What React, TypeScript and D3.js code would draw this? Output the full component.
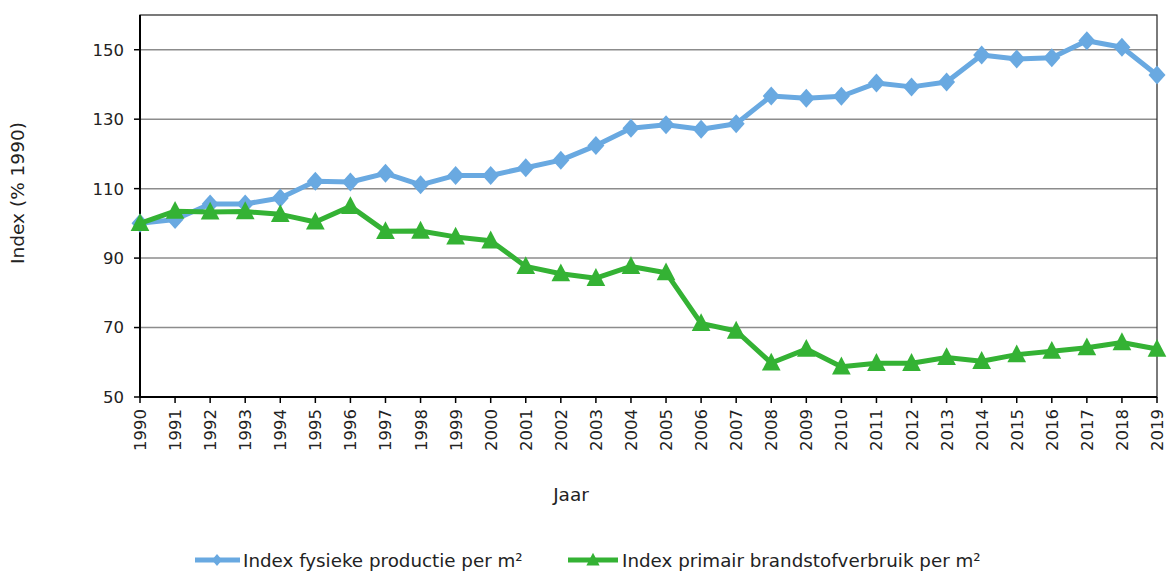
import React from "react";
import * as d3 from "d3";

const years = d3.range(1990, 2020).map(String);
const productie = [100, 101.1, 105.6, 105.6, 107.3, 112.1, 111.9, 114.4, 111.1, 113.8, 113.8, 116, 118.2, 122.4, 127.4, 128.4, 127.1, 128.7, 136.7, 136, 136.6, 140.4, 139.3, 140.7, 148.5, 147.3, 147.7, 152.6, 150.7, 142.7];
const brandstof = [100, 103.5, 103.3, 103.4, 102.6, 100.4, 104.9, 97.7, 97.8, 96.1, 95, 87.6, 85.5, 84.2, 87.6, 85.8, 71.2, 69, 59.8, 63.8, 58.7, 59.7, 59.7, 61.4, 60.3, 62.2, 63.2, 64.2, 65.7, 63.8];
const yTicks = [50, 70, 90, 110, 130, 150];
const seriesNames = ["Index fysieke productie per m²", "Index primair brandstofverbruik per m²"];
const colors = ["#69A9E1", "#34B234"];

export default function App() {
  const W = 1167, H = 572;
  const left = 140, right = 1157, top = 15, bottom = 397;
  const x = d3.scalePoint<string>().domain(years).range([left, right]);
  const y = d3.scaleLinear().domain([50, 160]).range([bottom, top]);
  const line = d3.line<number>().x((_, i) => x(years[i])!).y((d) => y(d));
  const font = "'DejaVu Sans', Verdana, sans-serif";
  const dia = (cx: number, cy: number, w: number, h: number) =>
    `M${cx},${cy - h}L${cx + w},${cy}L${cx},${cy + h}L${cx - w},${cy}Z`;
  const tri = (cx: number, cy: number, s: number) =>
    `M${cx},${cy - s * 0.6}L${cx + s * 0.55},${cy + s * 0.45}L${cx - s * 0.55},${cy + s * 0.45}Z`;
  const ly = 560;

  return (
    <svg width={W} height={H} style={{ position: "absolute", left: 0, top: 0, background: "#fff" }} fontFamily={font}>
      {yTicks.map((t) => (
        <g key={t}>
          {t !== 50 && <line x1={left} x2={right} y1={y(t)} y2={y(t)} stroke="#8c8c8c" strokeWidth={1.5} />}
          <line x1={left - 6} x2={left} y1={y(t)} y2={y(t)} stroke="#000" strokeWidth={1.5} />
          <text x={left - 16} y={y(t)} dy="0.36em" textAnchor="end" fontSize={16.5} fill="#222">{t}</text>
        </g>
      ))}
      <rect x={left} y={top} width={right - left} height={bottom - top} fill="none" stroke="#222" strokeWidth={1.2} />
      <line x1={left} x2={left} y1={top} y2={bottom} stroke="#000" strokeWidth={2} />
      <line x1={left} x2={right} y1={bottom} y2={bottom} stroke="#000" strokeWidth={2} />
      {years.map((yr) => (
        <g key={yr}>
          <line x1={x(yr)} x2={x(yr)} y1={bottom} y2={bottom + 6} stroke="#000" strokeWidth={1.5} />
          <text transform={`translate(${x(yr)! + 6},${bottom + 12}) rotate(-90)`} textAnchor="end" fontSize={16.5} fill="#222">{yr}</text>
        </g>
      ))}
      <text transform={`translate(24,193) rotate(-90)`} textAnchor="middle" fontSize={18.5} fill="#222">Index (% 1990)</text>
      <text x={571} y={501} textAnchor="middle" fontSize={18.5} fill="#222">Jaar</text>

      <path d={line(productie)!} fill="none" stroke={colors[0]} strokeWidth={5} strokeLinejoin="round" />
      {productie.map((v, i) => (
        <path key={i} d={dia(x(years[i])!, y(v), 8.5, 9.5)} fill={colors[0]} />
      ))}
      <path d={line(brandstof)!} fill="none" stroke={colors[1]} strokeWidth={5} strokeLinejoin="round" />
      {brandstof.map((v, i) => (
        <path key={i} d={tri(x(years[i])!, y(v), 17)} fill={colors[1]} />
      ))}

      <g>
        <line x1={195} x2={240} y1={ly} y2={ly} stroke={colors[0]} strokeWidth={5} />
        <path d={dia(217, ly, 5, 6)} fill={colors[0]} />
        <text x={243} y={ly} dy="0.36em" fontSize={18.3} fill="#222">{seriesNames[0]}</text>
        <line x1={568} x2={618} y1={ly} y2={ly} stroke={colors[1]} strokeWidth={5} />
        <path d={tri(593, ly, 12)} fill={colors[1]} />
        <text x={622} y={ly} dy="0.36em" fontSize={18.3} fill="#222">{seriesNames[1]}</text>
      </g>
    </svg>
  );
}
